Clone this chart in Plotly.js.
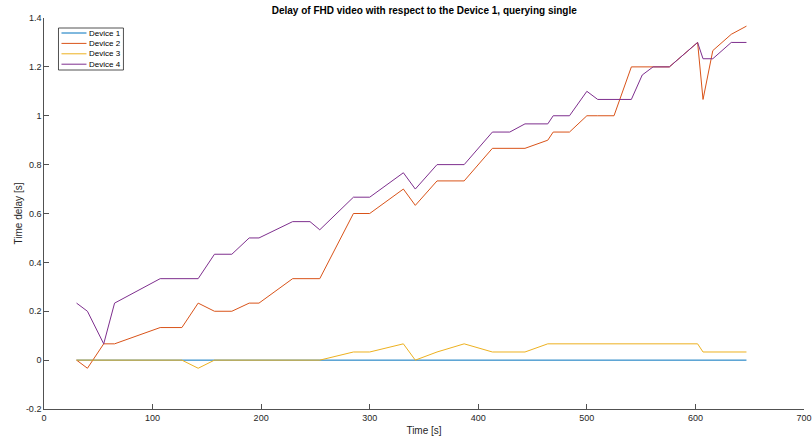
<!DOCTYPE html>
<html>
<head>
<meta charset="utf-8">
<script src="https://cdn.plot.ly/plotly-3.0.1.min.js"></script>
<style>html,body{margin:0;padding:0;background:#fff;}#chart{width:812px;height:436px;}</style>
</head>
<body>
<div id="chart"></div>
<script>
const timeS = [30, 40, 55, 65, 107, 127, 142, 157, 173, 189, 198, 229, 245, 254, 285, 300, 331, 342, 362, 387, 413, 429, 443, 464, 469, 484, 500, 510, 525, 541, 551, 561, 576, 602, 607, 616, 633, 647];
const device1 = [0,0,0,0,0,0,0,0,0,0,0,0,0,0,0,0,0,0,0,0,0,0,0,0,0,0,0,0,0,0,0,0,0,0,0,0,0,0];
const device2 = [0, -0.0333, 0.0667, 0.0667, 0.1333, 0.1333, 0.2333, 0.2, 0.2, 0.2333, 0.2333, 0.3333, 0.3333, 0.3333, 0.6, 0.6, 0.7, 0.6333, 0.7333, 0.7333, 0.8667, 0.8667, 0.8667, 0.9, 0.9333, 0.9333, 1.0, 1.0, 1.0, 1.2, 1.2, 1.2, 1.2, 1.3, 1.0667, 1.2667, 1.3333, 1.3667];
const device3 = [0, 0, 0, 0, 0, 0, -0.0333, 0, 0, 0, 0, 0, 0, 0, 0.0333, 0.0333, 0.0667, 0, 0.0333, 0.0667, 0.0333, 0.0333, 0.0333, 0.0667, 0.0667, 0.0667, 0.0667, 0.0667, 0.0667, 0.0667, 0.0667, 0.0667, 0.0667, 0.0667, 0.0333, 0.0333, 0.0333, 0.0333];
const device4 = [0.2333, 0.2, 0.0667, 0.2333, 0.3333, 0.3333, 0.3333, 0.4333, 0.4333, 0.5, 0.5, 0.5667, 0.5667, 0.5333, 0.6667, 0.6667, 0.7667, 0.7, 0.8, 0.8, 0.9333, 0.9333, 0.9667, 0.9667, 1.0, 1.0, 1.1, 1.0667, 1.0667, 1.0667, 1.1667, 1.2, 1.2, 1.3, 1.2333, 1.2333, 1.3, 1.3];
const seriesNames = ['Device 1', 'Device 2', 'Device 3', 'Device 4'];
const colors = ['#0072BD', '#D95319', '#EDB120', '#7E2F8E'];
const xTicks = [0, 100, 200, 300, 400, 500, 600, 700];
const yTicks = [-0.2, 0, 0.2, 0.4, 0.6, 0.8, 1, 1.2, 1.4];
const yTickText = ['-0.2', '0', '0.2', '0.4', '0.6', '0.8', '1', '1.2', '1.4'];

const ys = [device1, device2, device3, device4];
const traces = ys.map((y, i) => ({
  x: timeS, y: y, type: 'scatter', mode: 'lines', name: seriesNames[i],
  line: {color: colors[i], width: 1}
}));

// plot area geometry (pixels) for the compact MATLAB-style legend box
const W = 812, H = 436, mL = 43.5, mR = 8, mT = 18, mB = 27;
const pw = W - mL - mR, ph = H - mT - mB;
const px = v => (v - mL) / pw;
const py = v => (H - mB - v) / ph;

const shapes = [{type: 'rect', xref: 'paper', yref: 'paper',
  x0: px(58), x1: px(123), y0: py(70), y1: py(28),
  line: {color: '#262626', width: 0.8}, fillcolor: '#fff', layer: 'above'}];
const annotations = [];
seriesNames.forEach((n, i) => {
  const yy = 33 + i * 10.4;
  shapes.push({type: 'line', xref: 'paper', yref: 'paper', x0: px(61), x1: px(86), y0: py(yy), y1: py(yy),
    line: {color: colors[i], width: 1}, layer: 'above'});
  annotations.push({xref: 'paper', yref: 'paper', x: px(87.5), y: py(yy), xanchor: 'left', yanchor: 'middle',
    borderpad: 0, text: n, showarrow: false,
    font: {family: 'Liberation Sans, Arial, sans-serif', size: 8, color: '#000'}});
});

const font = {family: 'Liberation Sans, Arial, Helvetica, sans-serif', size: 9, color: '#262626'};
const layout = {
  width: W, height: H,
  margin: {l: mL, r: mR, t: mT, b: mB, pad: 0},
  paper_bgcolor: '#fff', plot_bgcolor: '#fff',
  font: font,
  showlegend: false,
  shapes: shapes,
  annotations: annotations,
  title: {text: '<b>Delay of FHD video with respect to the Device 1, querying single</b>',
    font: {family: 'Liberation Sans, Arial, sans-serif', size: 10, color: '#000'},
    x: 0.5225, xanchor: 'center', y: 0.975, yanchor: 'middle'},
  xaxis: {range: [0, 700], tickvals: xTicks, ticktext: xTicks.map(String),
    ticks: 'inside', ticklen: 5, tickcolor: '#262626', tickwidth: 0.8,
    showline: true, linecolor: '#262626', linewidth: 0.8, showgrid: false, zeroline: false,
    tickfont: font, mirror: false, ticklabeloverflow: 'allow',
    title: {text: 'Time [s]', font: {family: font.family, size: 10, color: '#262626'}, standoff: 6}},
  yaxis: {range: [-0.2, 1.4], tickvals: yTicks, ticktext: yTickText,
    ticks: 'inside', ticklen: 5, tickcolor: '#262626', tickwidth: 0.8,
    showline: true, linecolor: '#262626', linewidth: 0.8, showgrid: false, zeroline: false,
    tickfont: font, mirror: false, ticklabeloverflow: 'allow',
    title: {text: 'Time delay [s]', font: {family: font.family, size: 10, color: '#262626'}, standoff: 1}}
};
Plotly.newPlot('chart', traces, layout, {displayModeBar: false, staticPlot: true});
</script>
</body>
</html>
